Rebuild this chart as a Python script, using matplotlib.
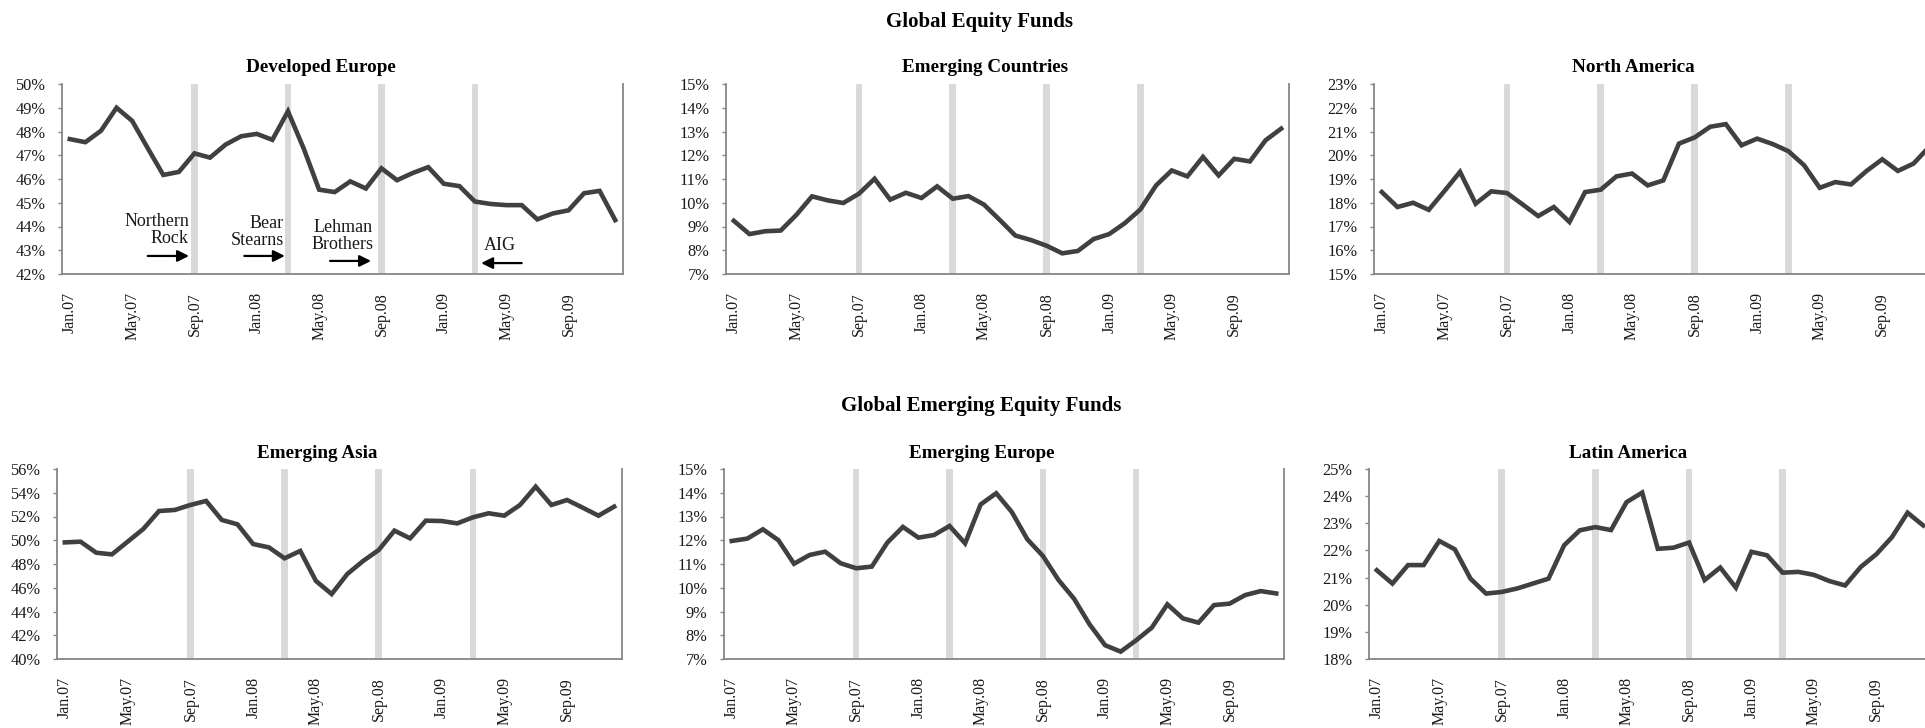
import numpy as np
import matplotlib
matplotlib.use("Agg")
import matplotlib.pyplot as plt
from matplotlib.ticker import FuncFormatter

plt.rcParams['font.family'] = ['Liberation Serif', 'DejaVu Serif']

# month labels Jan.07 .. Dec.09
month_names = ['Jan', 'Feb', 'Mar', 'Apr', 'May', 'Jun',
               'Jul', 'Aug', 'Sep', 'Oct', 'Nov', 'Dec']
months = [f'{m}.{y}' for y in ['07', '08', '09'] for m in month_names]

# crisis events (Sep.07, Mar.08, Sep.08, Mar.09)
event_months = ['Sep.07', 'Mar.08', 'Sep.08', 'Mar.09']
event_labels = ['Northern\nRock', 'Bear\nStearns', 'Lehman\nBrothers', 'AIG']

# shares in %
developed_europe = [47.68, 47.55, 48.03, 49.0, 48.45, 47.3, 46.17, 46.3, 47.08, 46.9,
                    47.45, 47.8, 47.9, 47.65, 48.85, 47.3, 45.55, 45.45, 45.9, 45.6,
                    46.45, 45.95, 46.25, 46.5, 45.8, 45.7, 45.05, 44.95, 44.9, 44.9,
                    44.3, 44.55, 44.68, 45.4, 45.5, 44.27]
emerging_countries = [9.24, 8.68, 8.8, 8.83, 9.49, 10.27, 10.1, 9.99, 10.38, 11.01,
                      10.13, 10.42, 10.2, 10.69, 10.17, 10.28, 9.92, 9.28, 8.62, 8.43,
                      8.19, 7.87, 7.97, 8.47, 8.68, 9.14, 9.72, 10.73, 11.36, 11.11,
                      11.93, 11.15, 11.85, 11.74, 12.63, 13.12]
north_america = [18.45, 17.82, 18.0, 17.7, 18.49, 19.3, 17.96, 18.48, 18.41, 17.93,
                 17.44, 17.82, 17.19, 18.45, 18.55, 19.11, 19.23, 18.73, 18.94, 20.49,
                 20.75, 21.2, 21.31, 20.42, 20.7, 20.47, 20.17, 19.58, 18.63, 18.87,
                 18.77, 19.34, 19.83, 19.34, 19.65, 20.35]
emerging_asia = [49.82, 49.88, 48.95, 48.81, 49.88, 50.95, 52.46, 52.55, 52.97, 53.31,
                 51.71, 51.34, 49.68, 49.4, 48.48, 49.1, 46.57, 45.47, 47.16, 48.25,
                 49.18, 50.81, 50.16, 51.65, 51.62, 51.42, 51.93, 52.27, 52.07, 52.97,
                 54.51, 52.97, 53.39, 52.74, 52.07, 52.83]
emerging_europe = [11.97, 12.07, 12.46, 12.0, 11.01, 11.38, 11.52, 11.03, 10.82, 10.89,
                   11.9, 12.56, 12.11, 12.22, 12.6, 11.87, 13.51, 13.98, 13.19, 12.04,
                   11.34, 10.33, 9.54, 8.46, 7.58, 7.31, 7.79, 8.32, 9.3, 8.71,
                   8.53, 9.27, 9.33, 9.69, 9.86, 9.76]
latin_america = [21.27, 20.78, 21.46, 21.46, 22.35, 22.04, 20.96, 20.41, 20.47, 20.6,
                 20.78, 20.96, 22.19, 22.74, 22.86, 22.75, 23.78, 24.13, 22.06, 22.1,
                 22.29, 20.91, 21.37, 20.63, 21.95, 21.82, 21.18, 21.21, 21.1, 20.87,
                 20.71, 21.39, 21.86, 22.49, 23.39, 22.92]

W, H = 1925, 728
fig = plt.figure(figsize=(W / 100, H / 100), dpi=100)

def box(left, top, width, height):
    # pixel box -> figure fraction
    return [left / W, 1 - (top + height) / H, width / W, height / H]

panels = [
    ('Developed Europe', developed_europe, (42, 50, 1), box(62, 84, 561, 190)),
    ('Emerging Countries', emerging_countries, (7, 15, 1), box(726, 84, 563, 190)),
    ('North America', north_america, (15, 23, 1), box(1374, 84, 563, 190)),
    ('Emerging Asia', emerging_asia, (40, 56, 2), box(57, 469, 565, 190)),
    ('Emerging Europe', emerging_europe, (7, 15, 1), box(724, 469, 560, 190)),
    ('Latin America', latin_america, (18, 25, 1), box(1369, 469, 562, 190)),
]

x = np.arange(len(months))
ev_x = [months.index(m) for m in event_months]
axes = []
for title, vals, (lo, hi, step), pos in panels:
    ax = fig.add_axes(pos)
    ax.bar(ev_x, hi - lo, bottom=lo, width=0.42, color='#d9d9d9', zorder=1)
    ax.plot(x, vals, color='#404040', lw=3.3, zorder=3, solid_joinstyle='miter')
    ax.set_xlim(-0.5, len(months) - 0.5)
    ax.set_ylim(lo, hi)
    ax.set_yticks(np.arange(lo, hi + step / 2, step))
    ax.yaxis.set_major_formatter(FuncFormatter(lambda v, p: f'{v:.0f}%'))
    ax.set_xticks(x[::4])
    ax.set_xticklabels(months[::4])
    ax.spines['top'].set_visible(False)
    for s in ['left', 'bottom', 'right']:
        ax.spines[s].set_color('#868686')
        ax.spines[s].set_linewidth(1.3)
    ax.tick_params(axis='y', length=3, width=1, color='#868686', pad=9,
                   labelsize=11.8, labelcolor='#1a1a1a')
    ax.tick_params(axis='x', length=0, pad=13, labelsize=11.5,
                   labelrotation=90, labelcolor='#1a1a1a')
    ax.text(0.5 - 22 / (pos[2] * W), 1 + 16 / 190, title, transform=ax.transAxes,
            ha='center', va='center', fontsize=13.8, fontweight='bold')
    axes.append(ax)

# event annotations on Developed Europe
ax = axes[0]
txt_kw = dict(fontsize=13, color='#1a1a1a', linespacing=1.0)
arr = dict(arrowstyle='-|>', color='black', lw=1.6, mutation_scale=17,
           shrinkA=0, shrinkB=0)
e0, e1, e2, e3 = ev_x
ax.text(e0 - 0.35, 43.84, event_labels[0], ha='right', va='center',
        multialignment='right', **txt_kw)
ax.annotate('', xy=(e0 - 0.35, 42.76), xytext=(e0 - 3.0, 42.76), arrowprops=arr)
ax.text(e1 - 0.25, 43.77, event_labels[1], ha='right', va='center',
        multialignment='right', **txt_kw)
ax.annotate('', xy=(e1 - 0.2, 42.76), xytext=(e1 - 2.8, 42.76), arrowprops=arr)
ax.text(e2 - 2.47, 43.59, event_labels[2], ha='center', va='center',
        multialignment='center', **txt_kw)
ax.annotate('', xy=(e2 - 0.67, 42.55), xytext=(e2 - 3.3, 42.55), arrowprops=arr)
ax.text(e3 + 1.57, 43.2, event_labels[3], ha='center', va='center', **txt_kw)
ax.annotate('', xy=(e3 + 0.4, 42.46), xytext=(e3 + 3.0, 42.46), arrowprops=arr)

fig.text(980 / W, 1 - 22 / H, 'Global Equity Funds', ha='center', va='center',
         fontsize=15, fontweight='bold')
fig.text(981 / W, 1 - 406 / H, 'Global Emerging Equity Funds', ha='center',
         va='center', fontsize=15, fontweight='bold')

fig.savefig('out.png', dpi=100)
